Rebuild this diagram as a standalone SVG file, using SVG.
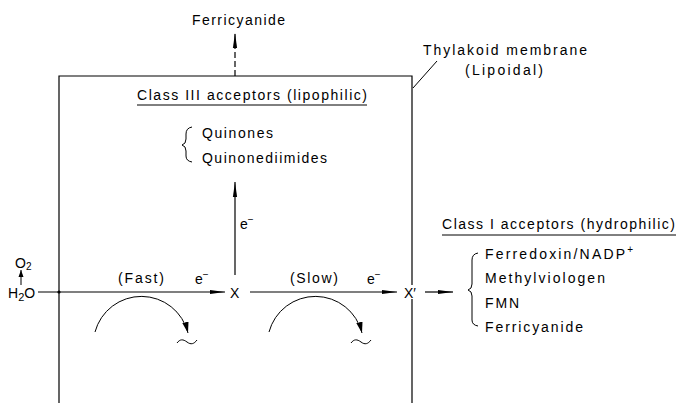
<svg xmlns="http://www.w3.org/2000/svg" width="676" height="406" viewBox="0 0 676 406">
<defs>
<marker id="ah" markerWidth="16" markerHeight="6" refX="15" refY="3" orient="auto" markerUnits="userSpaceOnUse"><path d="M0,0.9 L15,3 L0,5.1 z" fill="#000"/></marker>
<marker id="ahs" markerWidth="8" markerHeight="6" refX="7" refY="3" orient="auto" markerUnits="userSpaceOnUse"><path d="M0,0.5 L7,3 L0,5.5 z" fill="#000"/></marker>
<marker id="ahc" markerWidth="12" markerHeight="8" refX="11" refY="4" orient="auto" markerUnits="userSpaceOnUse"><path d="M0,0.8 L11,4 L0,7.2 z" fill="#000"/></marker>
</defs>
<style>
text{font-family:"Liberation Sans",Arial,sans-serif;font-size:14px;fill:#000}
.ln{stroke:#000;stroke-width:1.2;fill:none}
.thin{stroke:#000;stroke-width:1;fill:none}
</style>
<rect width="676" height="406" fill="#fff"/>

<g id="membrane">
<path class="ln" d="M59,403 V76 H412 V403"/>
<line class="thin" x1="413" y1="88" x2="437" y2="61"/>
<text x="423" y="55" textLength="164" lengthAdjust="spacing">Thylakoid membrane</text>
<text x="465" y="75" textLength="78" lengthAdjust="spacing">(Lipoidal)</text>
<circle cx="59" cy="292" r="1.6" fill="#000"/>
</g>

<g id="ferricyanide-top">
<text x="192" y="25" textLength="93" lengthAdjust="spacing">Ferricyanide</text>
</g>

<g id="class3">
<text x="137" y="100" textLength="230" lengthAdjust="spacing">Class III acceptors (lipophilic)</text>
<line class="thin" x1="137" y1="105" x2="367" y2="105"/>
<path class="thin" d="M192,127 Q186,128 186,134 L186,139 Q186,144 182,145 Q186,146 186,151 L186,156 Q186,161 192,162"/>
<text x="202" y="138" textLength="71" lengthAdjust="spacing">Quinones</text>
<text x="202" y="163" textLength="125" lengthAdjust="spacing">Quinonediimides</text>
</g>

<g id="water">
<text x="15" y="268" font-size="14">O<tspan dy="2" font-size="10">2</tspan></text>
<text x="8" y="298" font-size="15">H<tspan dy="3" font-size="11">2</tspan><tspan dy="-3">O</tspan></text>
</g>

<g id="X">
<text x="230" y="298" font-size="15">X</text>
</g>

<g id="Xprime">
<rect x="403" y="285" width="14" height="14" fill="#fff"/>
<text x="404" y="298" font-size="15">X′</text>
</g>

<g id="class1">
<text x="442" y="229" textLength="233" lengthAdjust="spacing">Class I acceptors (hydrophilic)</text>
<line class="thin" x1="442" y1="235" x2="676" y2="235"/>
<path class="thin" d="M478,253 Q472,254 472,260 L472,284 Q472,289 468,290 Q472,291 472,296 L472,320 Q472,325 478,326"/>
<text x="485" y="259" textLength="148" lengthAdjust="spacing">Ferredoxin/NADP<tspan dy="-6" font-size="10">+</tspan></text>
<text x="485" y="283" textLength="120" lengthAdjust="spacing">Methylviologen</text>
<text x="485" y="308" textLength="34" lengthAdjust="spacing">FMN</text>
<text x="485" y="332" textLength="98" lengthAdjust="spacing">Ferricyanide</text>
</g>

<g id="connectors">
<path class="ln" d="M235,76 V33" stroke-dasharray="6 3" marker-end="url(#ah)"/>
<path class="ln" d="M235,275 V182" marker-end="url(#ah)"/>
<path class="ln" d="M38,292 H225" marker-end="url(#ah)"/>
<path class="ln" d="M250,292 H397" marker-end="url(#ah)"/>
<path class="ln" d="M425,292 H453" marker-end="url(#ah)"/>
<path class="thin" d="M21,285 V270" marker-end="url(#ahs)"/>
<path class="thin" d="M95,332 A48,48 0 0 1 188,333" marker-end="url(#ahc)"/>
<path class="thin" d="M269,332 A48,48 0 0 1 362,333" marker-end="url(#ahc)"/>
<path class="thin" d="M177,343 c3,-4 6,-4 10,-1 s7,2 10,-2"/>
<path class="thin" d="M351,343 c3,-4 6,-4 10,-1 s7,2 10,-2"/>
<text x="240" y="229">e<tspan dy="-6" font-size="10">−</tspan></text>
<text x="118" y="283" textLength="46" lengthAdjust="spacing">(Fast)</text>
<text x="195" y="284">e<tspan dy="-6" font-size="10">−</tspan></text>
<text x="290" y="283" textLength="48" lengthAdjust="spacing">(Slow)</text>
<text x="367" y="284">e<tspan dy="-6" font-size="10">−</tspan></text>
</g>
</svg>
